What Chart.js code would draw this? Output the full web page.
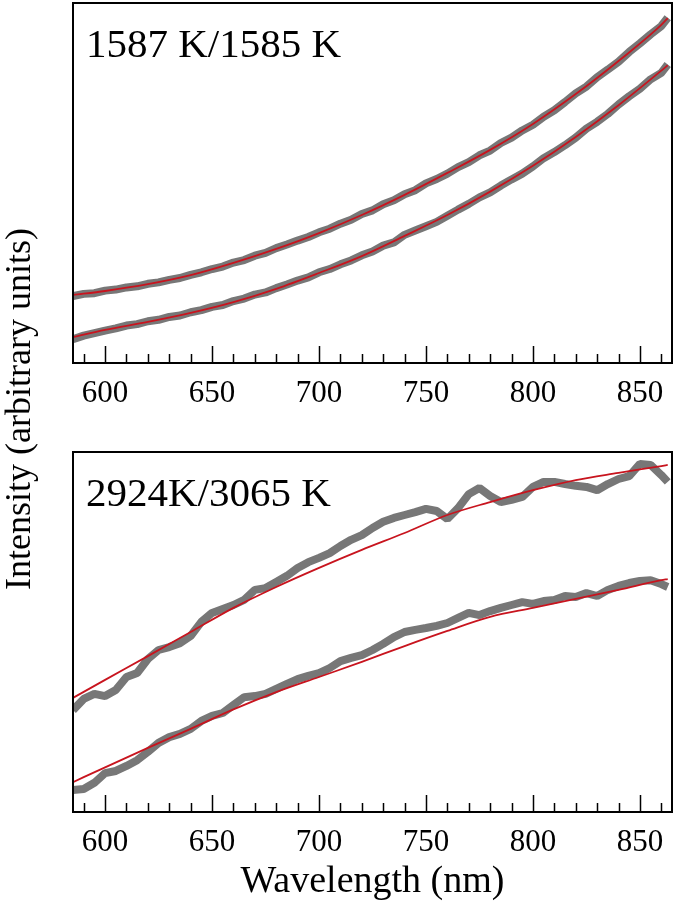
<!DOCTYPE html>
<html lang="en">
<head>
<meta charset="UTF-8">
<title>Intensity vs wavelength</title>
<script src="https://cdn.jsdelivr.net/npm/chart.js"></script>
<style>
    body {
        margin: 0;
        background: #fff;
        font-family: "Liberation Serif", "Times New Roman", serif;
    }
    .pagina {
        position: relative;
        width: 677px;
        height: 906px;
        overflow: hidden;
    }
    #graficaArriba { position: absolute; left: 0; top: 0; }
    #graficaAbajo { position: absolute; left: 0; top: 430px; }
    /* y title shared by both panels */
    #tituloY {
        position: absolute;
        left: -282px;
        top: 387px;
        width: 600px;
        height: 44px;
        line-height: 44px;
        text-align: center;
        font-size: 36px;
        color: #000;
        transform: rotate(-90deg);
    }
</style>
</head>
<body>
<div class="pagina">
    <canvas id="graficaArriba" width="677" height="420"></canvas>
    <canvas id="graficaAbajo" width="677" height="476"></canvas>
    <div id="tituloY">Intensity (arbitrary units)</div>
</div>

<script>
    // wavelengths (nm) of the measured spectra and of the fitted curves
    const ondas = [585, 590, 595, 600, 605, 610, 615, 620, 625, 630, 635, 640, 645, 650, 655, 660, 665, 670, 675, 680,
        685, 690, 695, 700, 705, 710, 715, 720, 725, 730, 735, 740, 745, 750, 755, 760, 765, 770, 775, 780,
        785, 790, 795, 800, 805, 810, 815, 820, 825, 830, 835, 840, 845, 850, 855, 860, 863];
    const ondasAjuste = [585, 600, 620, 640, 660, 680, 700, 720, 740, 760, 780, 800, 820, 840, 860, 863];
    const etiquetasX = [600, 650, 700, 750, 800, 850];

    // top panel: 1587 K / 1585 K
    const arribaSup = [18.6, 19.2, 19.4, 20.1, 20.4, 21.0, 21.3, 22.0, 22.4, 23.1, 23.6, 24.5, 25.2, 26.1, 26.8, 27.9, 28.6, 29.8, 30.6, 31.9,
        32.9, 34.0, 35.0, 36.3, 37.3, 38.7, 39.8, 41.4, 42.4, 44.1, 45.2, 46.9, 48.0, 49.9, 51.1, 52.6, 54.4, 55.8, 57.7, 59.0,
        61.1, 62.6, 64.6, 66.2, 68.4, 70.2, 72.5, 74.9, 76.8, 79.4, 81.5, 83.7, 86.4, 88.8, 91.3, 93.6, 95.9];
    const arribaInf = [6.6, 7.6, 8.3, 9.0, 9.6, 10.4, 10.8, 11.6, 12.0, 12.8, 13.2, 14.1, 14.7, 15.6, 16.1, 17.2, 17.9, 19.0, 19.6, 20.8,
        21.8, 22.9, 23.8, 25.2, 26.1, 27.4, 28.5, 29.9, 31.0, 32.6, 33.5, 35.6, 36.8, 38.0, 39.2, 40.9, 42.6, 44.2, 46.0, 47.4,
        49.3, 51.0, 52.6, 54.6, 56.9, 58.6, 60.5, 62.6, 65.1, 67.0, 69.2, 71.8, 74.1, 76.2, 78.8, 80.6, 82.9];
    const arribaSupAjuste = [18.9, 20.0, 21.9, 24.4, 27.8, 31.7, 36.1, 41.1, 46.7, 52.8, 59.2, 66.4, 74.7, 83.9, 93.9, 95.8];
    const arribaInfAjuste = [7.2, 9.2, 11.4, 13.9, 16.9, 20.6, 25.0, 29.7, 35.3, 41.1, 47.6, 54.8, 62.8, 71.6, 81.2, 82.7];

    // bottom panel: 2924K / 3065 K
    const abajoSup = [28.3, 31.4, 32.8, 32.2, 33.9, 37.5, 38.6, 42.5, 45.0, 45.8, 46.9, 48.9, 52.8, 55.3, 56.4, 57.5, 58.9, 61.7, 62.2, 63.9,
        65.6, 67.8, 69.4, 70.6, 71.9, 73.9, 75.6, 76.9, 78.9, 80.6, 81.7, 82.5, 83.3, 84.2, 83.6, 81.4, 84.4, 88.3, 90.0, 87.8,
        86.1, 86.7, 87.5, 90.3, 91.7, 91.7, 91.1, 90.6, 90.3, 89.4, 91.1, 92.5, 93.3, 96.7, 96.4, 93.6, 91.7];
    const abajoInf = [6.1, 6.4, 8.1, 10.8, 11.4, 12.8, 14.4, 16.7, 19.2, 20.8, 21.7, 23.1, 25.3, 26.7, 27.5, 29.7, 31.9, 32.2, 32.8, 34.2,
        35.6, 36.9, 37.8, 38.6, 40.0, 41.9, 42.8, 43.6, 45.0, 46.7, 48.6, 50.0, 50.6, 51.1, 51.7, 52.5, 53.9, 55.3, 54.7, 55.8,
        56.7, 57.5, 58.3, 57.8, 58.6, 58.9, 60.0, 59.7, 60.8, 60.0, 61.7, 62.8, 63.6, 64.2, 64.4, 63.3, 62.5];
    const abajoSupAjuste = [31.7, 36.7, 43.3, 50.0, 56.7, 62.5, 67.8, 72.8, 77.5, 82.5, 86.1, 89.4, 92.2, 94.2, 96.1, 96.4];
    const abajoInfAjuste = [8.3, 12.4, 17.8, 23.1, 28.5, 33.3, 37.5, 41.7, 46.1, 50.3, 54.2, 56.7, 59.2, 61.7, 64.4, 64.7];

    const GRIS = '#777777';
    const ROJO = '#c8141e';
    const FUENTE = '"Liberation Serif", "Times New Roman", serif';

    function puntos(xs, ys) {
        return xs.map((w, i) => ({ x: w, y: ys[i] }));
    }

    function serieAjuste(ys) {
        return {
            data: puntos(ondasAjuste, ys),
            borderColor: ROJO,
            borderWidth: 1.8,
            pointRadius: 0,
            cubicInterpolationMode: 'monotone'
        };
    }

    function serieMedida(ys) {
        return {
            data: puntos(ondas, ys),
            borderColor: GRIS,
            borderWidth: 8,
            pointRadius: 0,
            tension: 0,
            borderJoinStyle: 'bevel'
        };
    }

    // box, inward ticks and panel label
    const marco = {
        id: 'marco',
        afterDraw(chart, args, opts) {
            const { ctx, chartArea: a } = chart;
            const x = chart.scales.x;
            ctx.save();
            ctx.strokeStyle = '#000';
            ctx.lineWidth = 2;
            ctx.strokeRect(a.left, a.top, a.right - a.left, a.bottom - a.top);
            ctx.lineWidth = 1.5;
            ctx.beginPath();
            for (let v = 590; v <= 860; v += 10) {
                const px = Math.round(x.getPixelForValue(v)) + 0.5;
                const largo = etiquetasX.includes(v) ? 17 : 9;
                ctx.moveTo(px, a.bottom);
                ctx.lineTo(px, a.bottom - largo);
            }
            ctx.stroke();
            ctx.fillStyle = '#000';
            ctx.font = '41px ' + FUENTE;
            ctx.textBaseline = 'alphabetic';
            ctx.fillText(opts.etiqueta, a.left + 13, a.top + 54);
            ctx.restore();
        }
    };

    function crearGrafica(id, etiqueta, series, relleno, altoEje, conTitulo) {
        const ctx = document.getElementById(id).getContext('2d');
        return new Chart(ctx, {
            type: 'line',
            data: { datasets: series },
            options: {
                responsive: false,
                animation: false,
                layout: { padding: relleno },
                plugins: {
                    legend: { display: false },
                    tooltip: { enabled: false },
                    marco: { etiqueta: etiqueta }
                },
                scales: {
                    x: {
                        type: 'linear',
                        min: 585,
                        max: 865,
                        grid: { display: false, drawTicks: false },
                        border: { display: false },
                        ticks: {
                            stepSize: 50,
                            includeBounds: false,
                            padding: 12,
                            color: '#000',
                            font: { family: FUENTE, size: 31 },
                            maxRotation: 0
                        },
                        title: {
                            display: conTitulo,
                            text: 'Wavelength (nm)',
                            color: '#000',
                            font: { family: FUENTE, size: 38 },
                            padding: { top: 0, bottom: 1 }
                        },
                        afterFit: (scale) => { scale.height = altoEje; }
                    },
                    y: {
                        display: false,
                        min: 0,
                        max: 100
                    }
                }
            },
            plugins: [marco]
        });
    }

    crearGrafica('graficaArriba', '1587 K/1585 K',
        [serieAjuste(arribaSupAjuste), serieAjuste(arribaInfAjuste), serieMedida(arribaSup), serieMedida(arribaInf)],
        { left: 73, right: 5, top: 3, bottom: 0 }, 57, false);

    crearGrafica('graficaAbajo', '2924K/3065 K',
        [serieAjuste(abajoSupAjuste), serieAjuste(abajoInfAjuste), serieMedida(abajoSup), serieMedida(abajoInf)],
        { left: 73, right: 5, top: 22, bottom: 0 }, 94, true);
</script>
</body>
</html>
